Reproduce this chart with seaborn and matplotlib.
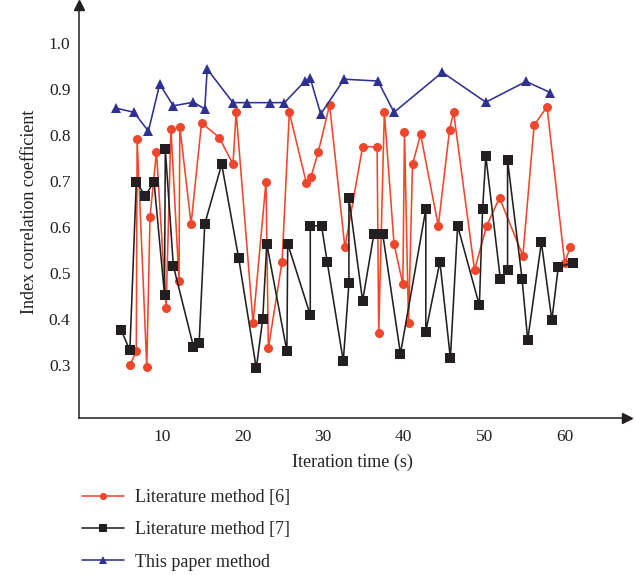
import matplotlib
matplotlib.use("Agg")
import matplotlib.pyplot as plt
import seaborn as sns

# Literature method [6]
lit6_x = [6.0, 6.8, 6.9, 8.1, 8.5, 9.3, 10.5, 11.1, 12.1, 12.2, 13.6, 14.9, 17.1, 18.8, 19.2,
          21.3, 22.9, 23.2, 24.9, 25.8, 27.9, 28.5, 29.4, 30.8, 32.7, 34.9, 36.7, 36.9, 37.6,
          38.8, 39.9, 40.1, 40.6, 41.1, 42.1, 44.3, 45.7, 46.2, 48.8, 50.3, 51.9, 54.8, 56.2,
          57.8, 60.0, 60.7]
lit6_y = [0.300, 0.330, 0.793, 0.296, 0.622, 0.764, 0.425, 0.814, 0.484, 0.819, 0.607, 0.827,
          0.795, 0.737, 0.850, 0.391, 0.699, 0.337, 0.525, 0.850, 0.697, 0.710, 0.764, 0.866,
          0.556, 0.775, 0.775, 0.371, 0.850, 0.564, 0.476, 0.807, 0.391, 0.737, 0.802, 0.603,
          0.812, 0.850, 0.507, 0.603, 0.664, 0.538, 0.822, 0.862, 0.522, 0.558]

# Literature method [7]
lit7_x = [4.9, 6.0, 6.8, 7.9, 9.0, 10.3, 10.4, 11.4, 13.9, 14.6, 15.3, 17.4, 19.5, 21.7, 22.5,
          23.0, 25.5, 25.6, 28.4, 28.4, 29.8, 30.5, 32.5, 33.2, 33.2, 34.9, 36.3, 37.4, 39.6,
          42.75, 42.75, 44.5, 45.8, 46.7, 49.4, 49.8, 50.2, 52.0, 52.9, 52.9, 54.7, 55.4, 57.1,
          58.4, 59.2, 61.0]
lit7_y = [0.377, 0.332, 0.699, 0.668, 0.699, 0.453, 0.770, 0.516, 0.340, 0.349, 0.607, 0.737,
          0.534, 0.293, 0.401, 0.564, 0.330, 0.564, 0.409, 0.603, 0.603, 0.525, 0.309, 0.478,
          0.664, 0.440, 0.585, 0.585, 0.325, 0.639, 0.373, 0.525, 0.315, 0.603, 0.430, 0.639,
          0.755, 0.488, 0.507, 0.746, 0.488, 0.355, 0.567, 0.398, 0.514, 0.522]

# This paper method
ours_x = [4.3, 6.5, 8.3, 9.7, 11.4, 13.9, 15.3, 15.6, 18.8, 20.6, 23.4, 25.2, 27.7, 28.4, 29.7,
          32.6, 36.8, 38.8, 44.8, 50.2, 55.2, 58.2]
ours_y = [0.859, 0.850, 0.809, 0.911, 0.864, 0.872, 0.857, 0.944, 0.871, 0.871, 0.871, 0.871,
          0.917, 0.924, 0.846, 0.922, 0.918, 0.850, 0.937, 0.872, 0.917, 0.893]

x_ticks = [10, 20, 30, 40, 50, 60]
y_ticks = [0.3, 0.4, 0.5, 0.6, 0.7, 0.8, 0.9, 1.0]

sns.set_style("white")
plt.rcParams["font.family"] = ["Liberation Serif", "DejaVu Serif"]

fig = plt.figure(figsize=(6.35, 5.75), dpi=100)
ax = fig.add_axes([0.124, 0.273, 0.863, 0.718])

red = "#F0462C"
black = "#231F20"
blue = "#2E3092"

sns.lineplot(x=lit6_x, y=lit6_y, sort=False, estimator=None, color=red, marker="o",
             markersize=6.5, markeredgewidth=0, lw=1.15, label="Literature method [6]", ax=ax)
sns.lineplot(x=lit7_x, y=lit7_y, sort=False, estimator=None, color=black, marker="s",
             markersize=6.5, markeredgewidth=0, lw=1.15, label="Literature method [7]", ax=ax)
sns.lineplot(x=ours_x, y=ours_y, sort=False, estimator=None, color=blue, marker="^",
             markersize=7, markeredgewidth=0, lw=1.15, label="This paper method", ax=ax)

ax.set_xlim(-0.35, 67.7)
ax.set_ylim(0.185, 1.083)
ax.set_xticks(x_ticks)
ax.set_yticks(y_ticks)
ax.set_yticklabels([f"{v:.1f}" for v in y_ticks])
ax.tick_params(axis="both", direction="in", length=11, width=1, colors=black,
               labelsize=12.5, pad=6)
ax.tick_params(axis="x", pad=8)
for lbl in ax.get_xticklabels() + ax.get_yticklabels():
    lbl.set_color(black)

sns.despine(ax=ax)
for s in ["left", "bottom"]:
    ax.spines[s].set_color(black)
    ax.spines[s].set_linewidth(1.1)

# axis arrows
ax.plot(1, 0.185, ">", color=black, ms=7, transform=ax.get_yaxis_transform(), clip_on=False)
ax.plot(-0.35, 1, "^", color=black, ms=7, transform=ax.get_xaxis_transform(), clip_on=False)

ax.set_xlabel("Iteration time (s)", fontsize=13, color=black, labelpad=6)
ax.set_ylabel("Index correlation coefficient", fontsize=13, color=black, labelpad=8)

ax.legend(loc="upper left", bbox_to_anchor=(0.118, 0.162), bbox_transform=fig.transFigure,
          frameon=False, fontsize=13, handlelength=2.3, handletextpad=0.6,
          labelspacing=0.85, markerscale=0.8, borderaxespad=0)

fig.savefig("out.png", dpi=100)
